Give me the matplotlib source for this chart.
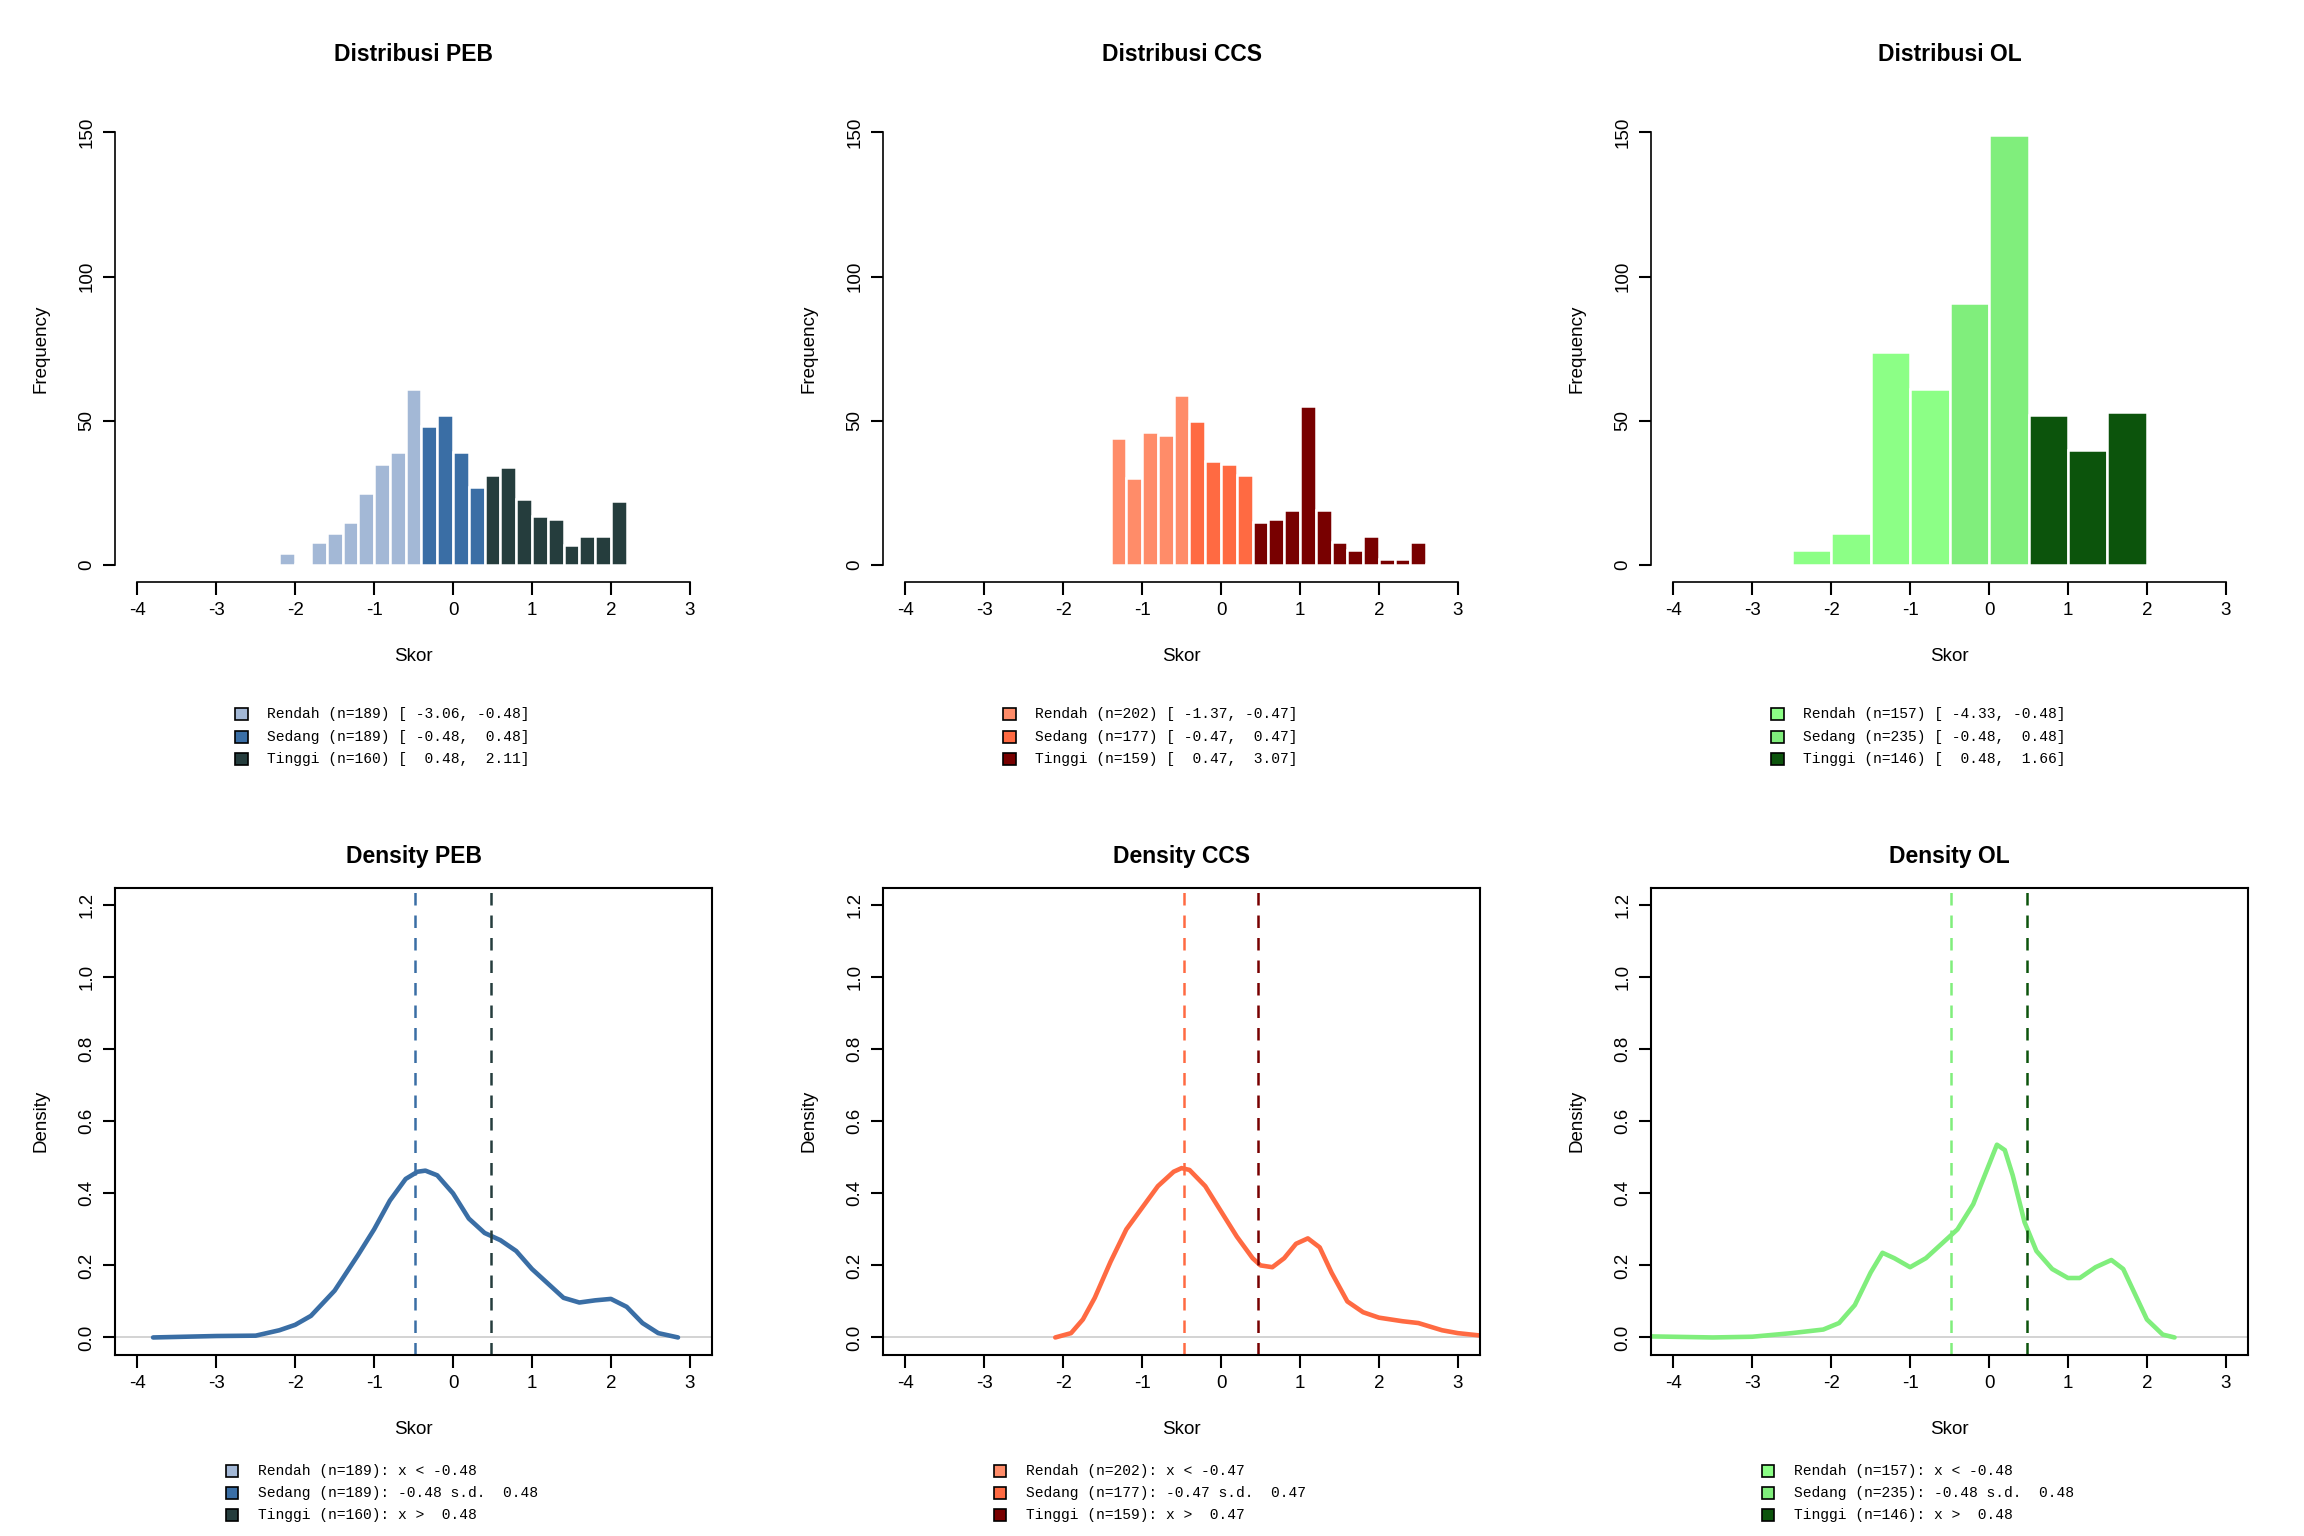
import numpy as np
import matplotlib.pyplot as plt

# ---- data ----
names = ["PEB", "CCS", "OL"]

peb_edges = np.round(np.arange(-3.2, 2.21, 0.2), 2)
peb_counts = [0.3, 0, 0.3, 0, 0.3, 4, 0.3, 8, 11, 15, 25, 35, 39, 61, 48, 52, 39, 27, 31, 34, 23, 17, 16, 7, 10, 10, 22]
ccs_edges = np.round(np.arange(-1.4, 3.21, 0.2), 2)
ccs_counts = [44, 30, 46, 45, 59, 50, 36, 35, 31, 15, 16, 19, 55, 19, 8, 5, 10, 2, 2, 8, 0.3, 0.3, 0.3]
ol_edges = np.arange(-4.5, 2.01, 0.5)
ol_counts = [0.3, 0, 0, 0.3, 5, 11, 74, 61, 91, 149, 52, 40, 53]

cuts = [(-0.48, 0.48), (-0.47, 0.47), (-0.48, 0.48)]
ns = [(189, 189, 160), (202, 177, 159), (157, 235, 146)]
ranges = [(-3.06, 2.11), (-1.37, 3.07), (-4.33, 1.66)]

colors = [("#A3B8D6", "#3A6EA5", "#253D3D"),
          ("#FF8C69", "#FF6A42", "#780000"),
          ("#8CFF86", "#80EE7C", "#0C540C")]

peb_dx = [-3.8, -3.0, -2.5, -2.2, -2.0, -1.8, -1.5, -1.2, -1.0, -0.8, -0.6, -0.45, -0.35, -0.2, 0.0, 0.2, 0.4,
          0.6, 0.8, 1.0, 1.2, 1.4, 1.6, 1.8, 2.0, 2.2, 2.4, 2.6, 2.85]
peb_dy = [0.0, 0.004, 0.005, 0.02, 0.035, 0.06, 0.13, 0.23, 0.3, 0.38, 0.44, 0.46, 0.463, 0.45, 0.4, 0.33, 0.29,
          0.27, 0.24, 0.19, 0.15, 0.11, 0.097, 0.103, 0.107, 0.085, 0.04, 0.012, 0.0]
ccs_dx = [-2.1, -1.9, -1.75, -1.6, -1.4, -1.2, -1.0, -0.8, -0.6, -0.5, -0.4, -0.2, 0.0, 0.2, 0.4, 0.5, 0.65,
          0.8, 0.95, 1.1, 1.25, 1.4, 1.6, 1.8, 2.0, 2.3, 2.5, 2.8, 3.0, 3.3]
ccs_dy = [0.0, 0.012, 0.05, 0.11, 0.21, 0.3, 0.36, 0.42, 0.46, 0.47, 0.465, 0.42, 0.35, 0.28, 0.22, 0.2, 0.195,
          0.22, 0.26, 0.275, 0.25, 0.18, 0.1, 0.07, 0.055, 0.045, 0.04, 0.02, 0.012, 0.005]
ol_dx = [-4.3, -3.5, -3.0, -2.5, -2.1, -1.9, -1.7, -1.5, -1.35, -1.2, -1.0, -0.8, -0.6, -0.4, -0.2, 0.0, 0.1,
         0.2, 0.3, 0.45, 0.6, 0.8, 1.0, 1.15, 1.35, 1.55, 1.7, 1.85, 2.0, 2.2, 2.35]
ol_dy = [0.003, 0.0, 0.002, 0.012, 0.022, 0.04, 0.09, 0.18, 0.235, 0.22, 0.195, 0.22, 0.26, 0.3, 0.37, 0.48, 0.535,
         0.52, 0.45, 0.32, 0.24, 0.19, 0.165, 0.165, 0.195, 0.215, 0.19, 0.12, 0.05, 0.008, 0.0]

hists = [(peb_edges, peb_counts), (ccs_edges, ccs_counts), (ol_edges, ol_counts)]
dens = [(peb_dx, peb_dy), (ccs_dx, ccs_dy), (ol_dx, ol_dy)]

plt.rcParams['font.family'] = ['Liberation Sans', 'DejaVu Sans']
mono = 'Liberation Mono'

fig = plt.figure(figsize=(15.36, 10.24), dpi=150)
xticks = np.arange(-4, 4)

for i in range(3):
    off = i / 3
    lo, hi = cuts[i]
    c = colors[i]
    n = ns[i]

    # histogram
    ax = fig.add_axes([off + 0.050, 0.621, 0.259, 0.304])
    edges, counts = hists[i]
    edges = np.asarray(edges)
    mids = (edges[:-1] + edges[1:]) / 2
    cols = [c[0] if m < lo else (c[1] if m < hi else c[2]) for m in mids]
    ax.bar(edges[:-1], counts, width=np.diff(edges), align='edge', color=cols,
           edgecolor='white', linewidth=1.2)
    ax.set_xlim(-4.28, 3.28)
    ax.set_ylim(-6, 156)
    ax.spines['top'].set_visible(False)
    ax.spines['right'].set_visible(False)
    ax.spines['left'].set_bounds(0, 150)
    ax.spines['bottom'].set_bounds(-4, 3)
    ax.set_yticks([0, 50, 100, 150])
    ax.set_yticklabels(['0', '50', '100', '150'], rotation=90, va='center')
    ax.set_xticks(xticks)
    ax.set_xticklabels([str(t) for t in xticks])
    ax.tick_params(labelsize=9, direction='out', length=6, width=1)
    ax.set_title("Distribusi " + names[i], fontsize=11, fontweight='bold', pad=26)
    ax.set_xlabel("Skor", fontsize=9, labelpad=14)
    ax.set_ylabel("Frequency", fontsize=9, labelpad=14)
    r0, r1 = ranges[i]
    labels = ["Rendah (n=%d) [%6.2f, %5.2f]" % (n[0], r0, -hi),
              "Sedang (n=%d) [%6.2f, %5.2f]" % (n[1], -hi, hi),
              "Tinggi (n=%d) [%6.2f, %5.2f]" % (n[2], hi, r1)]
    for k, y in enumerate([0.535, 0.520, 0.506]):
        fig.patches.append(plt.Rectangle((off + 0.102, y - 0.004), 0.0055, 0.008, transform=fig.transFigure,
                                         facecolor=c[k], edgecolor='black', linewidth=0.8))
        fig.text(off + 0.116, y, labels[k], fontsize=7, family=mono, va='center')

    # density
    ax2 = fig.add_axes([off + 0.050, 0.118, 0.259, 0.304])
    dx, dy = dens[i]
    ax2.axhline(0, color='#CCCCCC', linewidth=0.8)
    ax2.plot(dx, dy, color=c[1], linewidth=2.2, solid_capstyle='round')
    ax2.axvline(lo, color=c[1], linestyle=(0, (5, 4)), linewidth=1.2)
    ax2.axvline(hi, color=c[2], linestyle=(0, (5, 4)), linewidth=1.2)
    ax2.set_xlim(-4.28, 3.28)
    ax2.set_ylim(-0.048, 1.248)
    ax2.set_xticks(xticks)
    ax2.set_xticklabels([str(t) for t in xticks])
    yt = np.round(np.arange(0, 1.21, 0.2), 1)
    ax2.set_yticks(yt)
    ax2.set_yticklabels(["%.1f" % v for v in yt], rotation=90, va='center')
    ax2.tick_params(labelsize=9, direction='out', length=6, width=1)
    for s in ax2.spines.values():
        s.set_linewidth(1)
    ax2.set_title("Density " + names[i], fontsize=11, fontweight='bold', pad=12)
    ax2.set_xlabel("Skor", fontsize=9, labelpad=14)
    ax2.set_ylabel("Density", fontsize=9, labelpad=14)
    dl = ["Rendah (n=%d): x < %5.2f" % (n[0], lo),
          "Sedang (n=%d): %5.2f s.d. %5.2f" % (n[1], lo, hi),
          "Tinggi (n=%d): x > %5.2f" % (n[2], hi)]
    for k, y in enumerate([0.0425, 0.028, 0.0135]):
        fig.patches.append(plt.Rectangle((off + 0.098, y - 0.004), 0.0055, 0.008, transform=fig.transFigure,
                                         facecolor=c[k], edgecolor='black', linewidth=0.8))
        fig.text(off + 0.112, y, dl[k], fontsize=7, family=mono, va='center')

fig.savefig("out.png", dpi=150)
